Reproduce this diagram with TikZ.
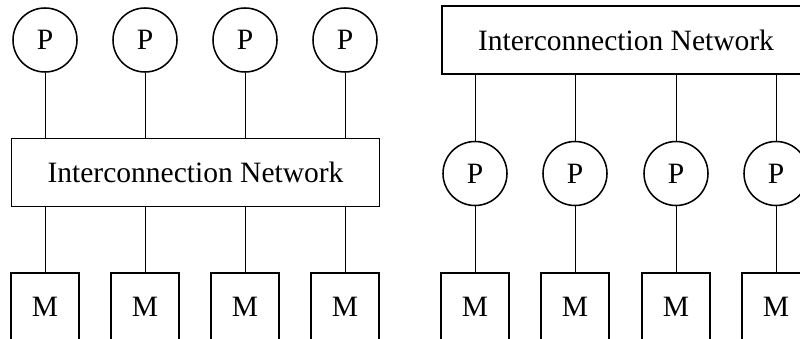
\documentclass[tikz,border=0pt]{standalone}
\usepackage{fontspec}
\setmainfont{Liberation Serif}

\begin{document}
\begin{tikzpicture} [scale = 1, font = \fontsize{21}{24}\selectfont,
  proc/.style = {draw, circle, line width = 1.1pt, minimum size = 1.6cm, inner sep = 0pt},
  mem/.style = {draw, rectangle, line width = 0.8pt, minimum width = 1.7cm, minimum height = 1.7cm, inner sep = 0pt},
  icn/.style = {draw, rectangle, line width = 0.8pt, minimum width = 9.2cm, minimum height = 1.7cm, inner sep = 0pt},
  wire/.style = {line width = 0.7pt}]
\useasboundingbox (0.0, 0.0) rectangle (20.0, 8.45);
\clip (0.0, 0.0) rectangle (20.0, 8.45);
% left: processors above the network, memories below
\node[proc] (lp1) at (1.125, 7.45){P};
\node[proc] (lp2) at (3.625, 7.45){P};
\node[proc] (lp3) at (6.125, 7.45){P};
\node[proc] (lp4) at (8.625, 7.45){P};
\node[icn] (lnet) at (4.8875, 4.1375){Interconnection Network};
\node[mem] (lm1) at (1.125, 0.775){M};
\node[mem] (lm2) at (3.625, 0.775){M};
\node[mem] (lm3) at (6.125, 0.775){M};
\node[mem] (lm4) at (8.625, 0.775){M};
\draw[wire] (lp1.south) -- (lp1.south |- lnet.north);
\draw[wire] (lp2.south) -- (lp2.south |- lnet.north);
\draw[wire] (lp3.south) -- (lp3.south |- lnet.north);
\draw[wire] (lp4.south) -- (lp4.south |- lnet.north);
\draw[wire] (lm1.north |- lnet.south) -- (lm1.north);
\draw[wire] (lm2.north |- lnet.south) -- (lm2.north);
\draw[wire] (lm3.north |- lnet.south) -- (lm3.north);
\draw[wire] (lm4.north |- lnet.south) -- (lm4.north);
% right: network on top, each processor with its own memory
\node[icn] (rnet) at (15.65, 7.45){Interconnection Network};
\node[proc] (rp1) at (11.875, 4.1125){P};
\node[proc] (rp2) at (14.375, 4.1125){P};
\node[proc] (rp3) at (16.9, 4.1125){P};
\node[proc] (rp4) at (19.4, 4.1125){P};
\node[mem] (rm1) at (11.875, 0.775){M};
\node[mem] (rm2) at (14.375, 0.775){M};
\node[mem] (rm3) at (16.9, 0.775){M};
\node[mem] (rm4) at (19.4, 0.775){M};
\draw[wire] (rp1.north |- rnet.south) -- (rp1.north);
\draw[wire] (rp2.north |- rnet.south) -- (rp2.north);
\draw[wire] (rp3.north |- rnet.south) -- (rp3.north);
\draw[wire] (rp4.north |- rnet.south) -- (rp4.north);
\draw[wire] (rp1.south) -- (rm1.north);
\draw[wire] (rp2.south) -- (rm2.north);
\draw[wire] (rp3.south) -- (rm3.north);
\draw[wire] (rp4.south) -- (rm4.north);
\end{tikzpicture}
\end{document}
